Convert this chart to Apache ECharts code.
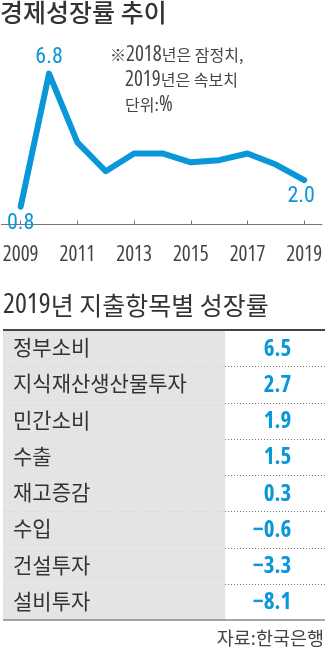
<!DOCTYPE html>
<html>
<head>
<meta charset="utf-8">
<script src="https://cdn.jsdelivr.net/npm/echarts@6/dist/echarts.min.js"></script>
<style>
  html, body { margin: 0; padding: 0; background: #fff; }
  #chart { width: 325px; height: 650px; }
</style>
</head>
<body>
<div id="chart"></div>
<script>
// Annual GDP growth (%)
const years = [2009, 2010, 2011, 2012, 2013, 2014, 2015, 2016, 2017, 2018, 2019];
const growth = [0.8, 6.8, 3.7, 2.4, 3.2, 3.2, 2.8, 2.9, 3.2, 2.7, 2.0];
const yearTicks = [2009, 2011, 2013, 2015, 2017, 2019];
const labeledYears = [2009, 2010, 2019];

// 2019 growth by expenditure item (%)
const items = ['정부소비', '지식재산생산물투자', '민간소비', '수출', '재고증감', '수입', '건설투자', '설비투자'];
const itemGrowth = [6.5, 2.7, 1.9, 1.5, 0.3, -0.6, -3.3, -8.1];

const BLUE = '#0a97d9';
const TEXT = '#333';
const KR = "'Noto Sans CJK KR'";
const NUM = "'Open Sans', 'Noto Sans CJK KR'";

const labelStyles = {
  2009: { position: 'bottom', distance: 5, offset: [0, 0] },
  2010: { position: 'top', distance: 5, offset: [0, 0] },
  2019: { position: 'bottom', distance: 5, offset: [-3, 0] }
};

const lineData = years.map((y, i) => {
  const item = { value: [y, growth[i]] };
  if (labeledYears.includes(y)) {
    item.label = Object.assign({
      show: true,
      color: BLUE,
      fontSize: 22,
      fontFamily: "'Roboto Condensed'",
      formatter: p => p.value[1].toFixed(1)
    }, labelStyles[y]);
  }
  return item;
});

const formatValue = v => (v < 0 ? '\u2212' + Math.abs(v).toFixed(1) : v.toFixed(1));

const tableData = items.map((name, i) => ({ value: [0, i, itemGrowth[i]] }));

function renderRow(params, api) {
  const i = api.value(1);
  const v = api.value(2);
  const cs = params.coordSys;
  const c = api.coord([0, i]);
  const h = api.size([0, 1])[1];
  const top = c[1] - h / 2;
  const left = cs.x;
  const right = cs.x + cs.width;
  const children = [
    { type: 'rect', shape: { x: left, y: top, width: cs.width * 0.69, height: h }, style: { fill: '#e4e4e4' } },
    { type: 'text', style: { x: left + 10, y: c[1] - 1, text: items[i], fill: TEXT, font: '21px ' + KR, verticalAlign: 'middle', align: 'left' } },
    { type: 'text', style: { x: left + cs.width * 0.895, y: c[1] + 1, text: formatValue(v), fill: BLUE, font: 'bold condensed 23px ' + NUM, verticalAlign: 'middle', align: 'right' } }
  ];
  if (i === 0) {
    children.push({ type: 'line', shape: { x1: left, y1: top, x2: right, y2: top }, style: { stroke: '#444', lineWidth: 2 } });
  }
  if (i === items.length - 1) {
    children.push({ type: 'line', shape: { x1: left, y1: top + h, x2: right, y2: top + h }, style: { stroke: '#888', lineWidth: 1.5 } });
  } else {
    const y = Math.round(top + h) + 0.5;
    children.push({ type: 'line', shape: { x1: left, y1: y, x2: right, y2: y }, style: { stroke: '#777', lineWidth: 1, lineDash: [1, 2] } });
  }
  return { type: 'group', children };
}

const numRich = size => ({ fontStyle: 'condensed', fontSize: size, fontFamily: "'Open Sans'", fill: '#444' });

const chart = echarts.init(document.getElementById('chart'), null, { renderer: 'canvas' });

chart.setOption({
  animation: false,
  backgroundColor: '#fff',
  grid: [
    { left: 0, right: 0, top: 47, bottom: 410 },
    { left: 3, right: 0, top: 330, bottom: 30 }
  ],
  xAxis: [
    {
      gridIndex: 0,
      type: 'value',
      min: 2008.322,
      max: 2019.626,
      axisLine: { show: true, lineStyle: { color: '#777', width: 1 } },
      axisTick: { show: true, inside: true, length: 4, customValues: yearTicks, lineStyle: { color: '#777' } },
      axisLabel: { customValues: yearTicks, color: '#444', fontStyle: 'condensed', fontSize: 21, fontFamily: "'Open Sans'", margin: 5, formatter: v => String(v) },
      splitLine: { show: false }
    },
    { gridIndex: 1, type: 'value', min: 0, max: 1, show: false }
  ],
  yAxis: [
    { gridIndex: 0, type: 'value', min: -0.7, max: 8, show: false },
    { gridIndex: 1, type: 'category', data: items, inverse: true, show: false }
  ],
  graphic: [
    { type: 'text', x: 0, y: 12, style: { text: '경제성장률 추이', fill: TEXT, font: '500 25px ' + KR, verticalAlign: 'middle' } },
    { type: 'text', x: 110, y: 55, style: { text: '※{n|2018}년은 잠정치,', fill: '#444', font: '16px ' + KR, verticalAlign: 'middle', rich: { n: numRich(21) } } },
    { type: 'text', x: 125, y: 80, style: { text: '{n|2019}년은 속보치', fill: '#444', font: '16px ' + KR, verticalAlign: 'middle', rich: { n: numRich(21) } } },
    { type: 'text', x: 125, y: 105, style: { text: '단위:{n|%}', fill: '#444', font: '16px ' + KR, verticalAlign: 'middle', rich: { n: numRich(21) } } },
    { type: 'text', x: 3, y: 305, style: { text: '{n|2019}년 지출항목별 성장률', fill: TEXT, font: '25px ' + KR, verticalAlign: 'middle', rich: { n: Object.assign(numRich(28), { fill: TEXT }) } } },
    { type: 'text', x: 324, y: 638, style: { text: '자료:한국은행', fill: '#444', font: '18.5px ' + KR, verticalAlign: 'middle', align: 'right' } }
  ],
  series: [
    {
      type: 'line',
      xAxisIndex: 0,
      yAxisIndex: 0,
      data: lineData,
      showSymbol: true,
      symbol: 'circle',
      symbolSize: 1,
      itemStyle: { color: BLUE },
      lineStyle: { color: BLUE, width: 6, cap: 'round', join: 'round' },
      emphasis: { disabled: true }
    },
    {
      type: 'custom',
      xAxisIndex: 1,
      yAxisIndex: 1,
      data: tableData,
      renderItem: renderRow,
      silent: true
    }
  ]
});
</script>
</body>
</html>
